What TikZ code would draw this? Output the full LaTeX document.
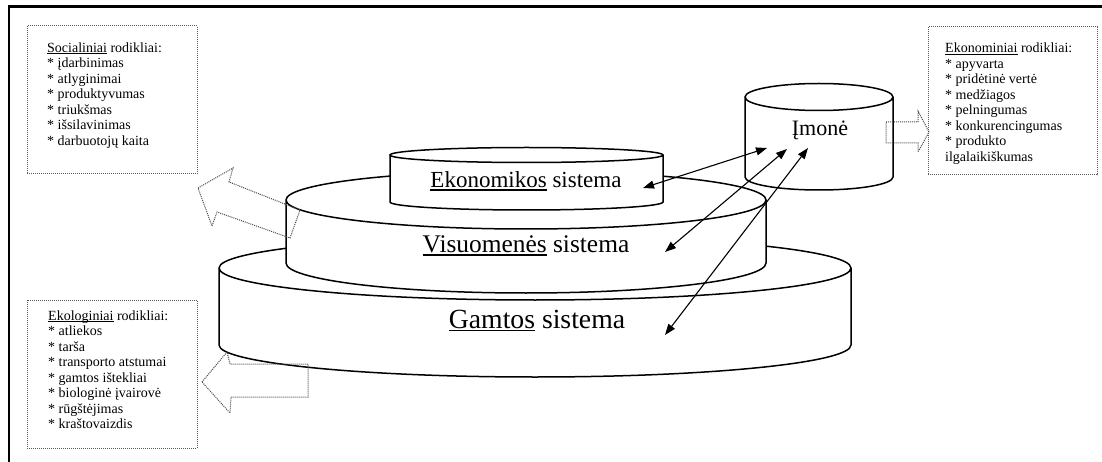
\documentclass[tikz,border=0pt]{standalone}
\usepackage{fontspec}
\setmainfont{Liberation Serif}
\usetikzlibrary{arrows.meta}
\newsavebox\undrbox
% underline with a fixed offset below the baseline, like a word processor
\newcommand\undr[1]{\sbox\undrbox{#1}\rlap{\rule[-0.11em]{\wd\undrbox}{0.055em}}\usebox\undrbox}
\begin{document}
\begin{tikzpicture}[x=1pt,y=1pt,
  cyl/.style={draw=black, fill=white, line width=1.5pt},
  link/.style={line width=1.1pt, {Triangle[length=11pt,width=8pt]}-{Triangle[length=11pt,width=8pt]}},
  infobox/.style={draw=black!65, densely dotted, line width=1pt},
  blockarrow/.style={draw=black!70, densely dotted, line width=1pt},
  systext/.style={anchor=base, inner sep=0pt},
  % multi-line nodes: the base anchor sits on the last line
  listtext/.style={anchor=base west, inner sep=0pt, align=left, font=\fontsize{14}{15.5}\selectfont}
]
\useasboundingbox (0,0) rectangle (1102,-462);
\fill[white] (0,0) rectangle (1102,-462);
% frame (left and top edges)
\draw[line width=2.5pt] (9,-462) -- (9,-6.5) -- (1102,-6.5);

% stacked cylinders, back to front
\path[cyl] (219,-268) -- (219,-345) arc[start angle=180,end angle=360,x radius=316,y radius=32]
  -- (851,-268) arc[start angle=0,end angle=360,x radius=316,y radius=32];
\path[cyl] (286,-200) -- (286,-263) arc[start angle=180,end angle=360,x radius=240,y radius=30]
  -- (766,-200) arc[start angle=0,end angle=360,x radius=240,y radius=29];
\path[cyl] (390,-155) -- (390,-202) arc[start angle=180,end angle=360,x radius=136.5,y radius=8]
  -- (663,-155) arc[start angle=0,end angle=360,x radius=136.5,y radius=7.5];
\path[cyl] (745,-97) -- (745,-177) arc[start angle=180,end angle=360,x radius=74,y radius=13]
  -- (893,-97) arc[start angle=0,end angle=360,x radius=74,y radius=13.5];

% labels
\node[systext, font=\fontsize{23}{23}\selectfont] (ek) at (526,-188) {\undr{Ekonomikos} sistema};
\node[systext, font=\fontsize{25.4}{26}\selectfont] (vi) at (526,-253) {\undr{Visuomenės} sistema};
\node[systext, font=\fontsize{27.7}{28}\selectfont] (ga) at (537,-328) {\undr{Gamtos} sistema};
\node[systext, font=\fontsize{22}{22}\selectfont] (im) at (820,-136) {Įmonė};

% two-way links between the company and the systems
\coordinate (ekEnd) at (643,-188);
\coordinate (viEnd) at (665,-252);
\coordinate (gaEnd) at (665,-335);
\coordinate (imA) at (767,-148);
\coordinate (imB) at (787,-149);
\coordinate (imC) at (808,-148);
\draw[link] (ekEnd) -- (imA);
\draw[link] (viEnd) -- (imB);
\draw[link] (gaEnd) -- (imC);

% indicator boxes
\draw[infobox] (27,-26) rectangle (197,-174);
\node[listtext] (soc) at (47,-145.5) {\undr{Socialiniai} rodikliai:\\
* įdarbinimas\\
* atlyginimai\\
* produktyvumas\\
* triukšmas\\
* išsilavinimas\\
* darbuotojų kaita};

\draw[infobox] (928,-27) rectangle (1097,-175);
\node[listtext] (eko) at (945,-161.5) {\undr{Ekonominiai} rodikliai:\\
* apyvarta\\
* pridėtinė vertė\\
* medžiagos\\
* pelningumas\\
* konkurencingumas\\
* produkto\\
ilgalaikiškumas};

\draw[infobox] (27,-300) rectangle (197,-448);
\node[listtext] (ekl) at (48,-428.5) {\undr{Ekologiniai} rodikliai:\\
* atliekos\\
* tarša\\
* transporto atstumai\\
* gamtos ištekliai\\
* biologinė įvairovė\\
* rūgštėjimas\\
* kraštovaizdis};

% dotted block arrows towards the boxes
\draw[blockarrow] (198,-188) -- (233,-168) -- (229,-182) -- (300,-210) -- (290,-238)
  -- (217,-212) -- (212,-226) -- cycle;
\draw[blockarrow] (202,-382) -- (227,-352) -- (230,-364) -- (308,-364) -- (308,-397)
  -- (231,-397) -- (230,-413) -- cycle;
\draw[blockarrow] (886,-122) -- (918,-122) -- (918,-111) -- (929,-132) -- (918,-152)
  -- (918,-143) -- (886,-143) -- cycle;
\end{tikzpicture}
\end{document}
